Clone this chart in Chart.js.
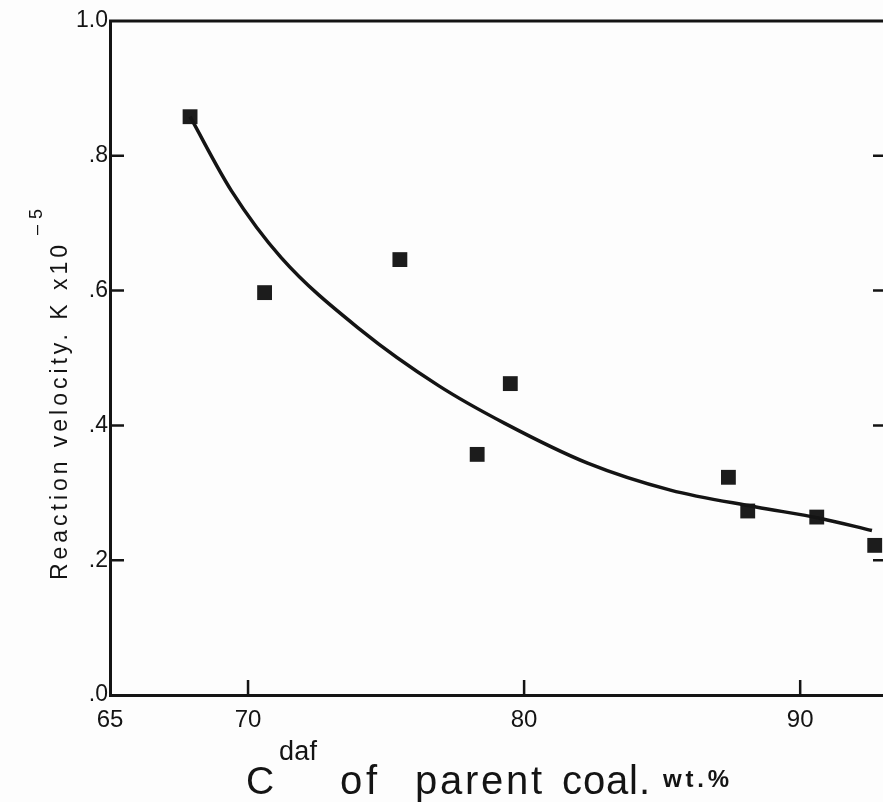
<!DOCTYPE html>
<html>
<head>
<meta charset="utf-8">
<script src="https://cdn.jsdelivr.net/npm/chart.js@4.4.1/dist/chart.umd.min.js"></script>
<style>
  html, body { margin: 0 ; padding: 0 ; background: #fdfdfd ; }
  canvas { display: block ; }
</style>
</head>
<body>
<canvas id="myChart" width="883" height="802"></canvas>
<script>
'use strict' ;

// tick labels as printed on the figure
const xTicks = [65, 70, 80, 90] ;
const yTicks = [0, 0.2, 0.4, 0.6, 0.8, 1.0] ;
const yTickLabels = ['.0', '.2', '.4', '.6', '.8', '1.0'] ;

// measured points : C(daf) of parent coal vs reaction velocity K x10^-5
const carbon = [67.9, 70.6, 75.5, 78.3, 79.5, 87.4, 88.1, 90.6, 92.7] ;
const velocity = [0.858, 0.597, 0.646, 0.357, 0.462, 0.323, 0.273, 0.264, 0.222] ;

// fitted curve
const curveCarbon = [67.9, 69.4, 71.2, 74.1, 76.9, 79.3, 82.3, 85.3, 88.4, 90.75, 92.6] ;
const curveVelocity = [0.858, 0.748, 0.649, 0.541, 0.459, 0.403, 0.344, 0.304, 0.279, 0.262, 0.244] ;

const ink = '#141414' ;
const face = '"Liberation Sans", Arial, sans-serif' ;

function toPoints (xs, ys)
{
  let out = [] ;
  for (let i = 0 ; i < xs.length ; i++) {
    out.push({ x: xs[i], y: ys[i] }) ;
  }
  return out ;
}

// draw text so that it spans a given width (the scan uses loose spacing)
function spread (ctx, text, x, y, width)
{
  ctx.letterSpacing = '0px' ;
  let w0 = ctx.measureText(text).width ;
  let sp = (width - w0) / Math.max(1, text.length - 1) ;
  ctx.letterSpacing = sp + 'px' ;
  ctx.fillText(text, x, y) ;
  ctx.letterSpacing = '0px' ;
}

const frame = {
  id: 'frame',
  beforeDraw (chart) {
    const ctx = chart.ctx ;
    ctx.save() ;
    ctx.fillStyle = '#fdfdfd' ;
    ctx.fillRect(0, 0, chart.width, chart.height) ;
    ctx.restore() ;
  },
  afterDraw (chart) {
    const ctx = chart.ctx ;
    const a = chart.chartArea ;
    const sx = chart.scales.x ;
    const sy = chart.scales.y ;
    ctx.save() ;
    ctx.strokeStyle = ink ;
    ctx.lineWidth = 3 ;
    ctx.lineCap = 'butt' ;

    // top border
    ctx.beginPath() ;
    ctx.moveTo(a.left - 1, sy.getPixelForValue(1)) ;
    ctx.lineTo(a.right, sy.getPixelForValue(1)) ;
    ctx.stroke() ;

    // inward tick marks
    ctx.lineWidth = 2.5 ;
    for (let i = 1 ; i < yTicks.length - 1 ; i++) {
      let py = sy.getPixelForValue(yTicks[i]) ;
      ctx.beginPath() ;
      ctx.moveTo(a.left, py) ; ctx.lineTo(a.left + 14, py) ;
      ctx.moveTo(a.right - 10, py) ; ctx.lineTo(a.right, py) ;
      ctx.stroke() ;
    }
    for (let i = 1 ; i < xTicks.length ; i++) {
      let px = sx.getPixelForValue(xTicks[i]) ;
      ctx.beginPath() ;
      ctx.moveTo(px, a.bottom) ; ctx.lineTo(px, a.bottom - 15) ;
      ctx.stroke() ;
    }

    ctx.fillStyle = ink ;
    ctx.textAlign = 'left' ;
    ctx.textBaseline = 'alphabetic' ;

    // y title, rotated
    ctx.save() ;
    ctx.translate(67, 580) ;
    ctx.rotate(-Math.PI / 2) ;
    ctx.font = '23px ' + face ;
    spread(ctx, 'Reaction velocity. K x10', 0, 0, 335) ;
    ctx.font = '18px ' + face ;
    spread(ctx, '\u20135', 345, -25, 26) ;
    ctx.restore() ;

    // x title
    ctx.font = '39px ' + face ;
    ctx.fillText('C', 246, 794) ;
    ctx.font = '27px ' + face ;
    spread(ctx, 'daf', 279, 760, 38) ;
    ctx.font = '40px ' + face ;
    spread(ctx, 'of', 340, 794, 37) ;
    spread(ctx, 'parent', 415, 794, 127) ;
    spread(ctx, 'coal.', 562, 794, 88) ;
    ctx.font = 'bold 24px ' + face ;
    spread(ctx, 'wt.%', 663, 787, 66) ;

    ctx.restore() ;
  }
} ;

const ctx = document.getElementById('myChart').getContext('2d') ;
const myChart = new Chart(ctx, {
  type: 'scatter',
  data: {
    datasets: [
      {
        label: 'fit',
        type: 'line',
        data: toPoints(curveCarbon, curveVelocity),
        borderColor: ink,
        borderWidth: 3.5,
        pointRadius: 0,
        fill: false,
        cubicInterpolationMode: 'monotone',
        clip: false
      },
      {
        label: 'K',
        data: toPoints(carbon, velocity),
        pointStyle: 'rect',
        pointRadius: 10.5,
        backgroundColor: '#1c1c1c',
        borderColor: '#1c1c1c',
        borderWidth: 0,
        clip: false
      }
    ]
  },
  options: {
    responsive: false,
    animation: false,
    layout: { autoPadding: false, padding: { top: 21, right: 0, left: 0, bottom: 0 } },
    plugins: {
      legend: { display: false },
      tooltip: { enabled: false }
    },
    scales: {
      x: {
        type: 'linear',
        min: 65,
        max: 93,
        afterBuildTicks: s => { s.ticks = xTicks.map(v => ({ value: v })) ; },
        afterFit: s => { s.height = 107 ; },
        grid: { display: false, drawTicks: false },
        border: { display: true, color: ink, width: 3 },
        ticks: {
          autoSkip: false,
          maxRotation: 0,
          padding: 11,
          color: ink,
          font: { family: face, size: 24 }
        }
      },
      y: {
        type: 'linear',
        min: 0,
        max: 1,
        afterBuildTicks: s => { s.ticks = yTicks.map(v => ({ value: v })) ; },
        afterFit: s => { s.width = 110 ; },
        grid: { display: false, drawTicks: false },
        border: { display: true, color: ink, width: 3 },
        ticks: {
          padding: 2,
          color: ink,
          font: { family: face, size: 23 },
          callback: (v, i) => yTickLabels[i]
        }
      }
    }
  },
  plugins: [frame]
}) ;
</script>
</body>
</html>
